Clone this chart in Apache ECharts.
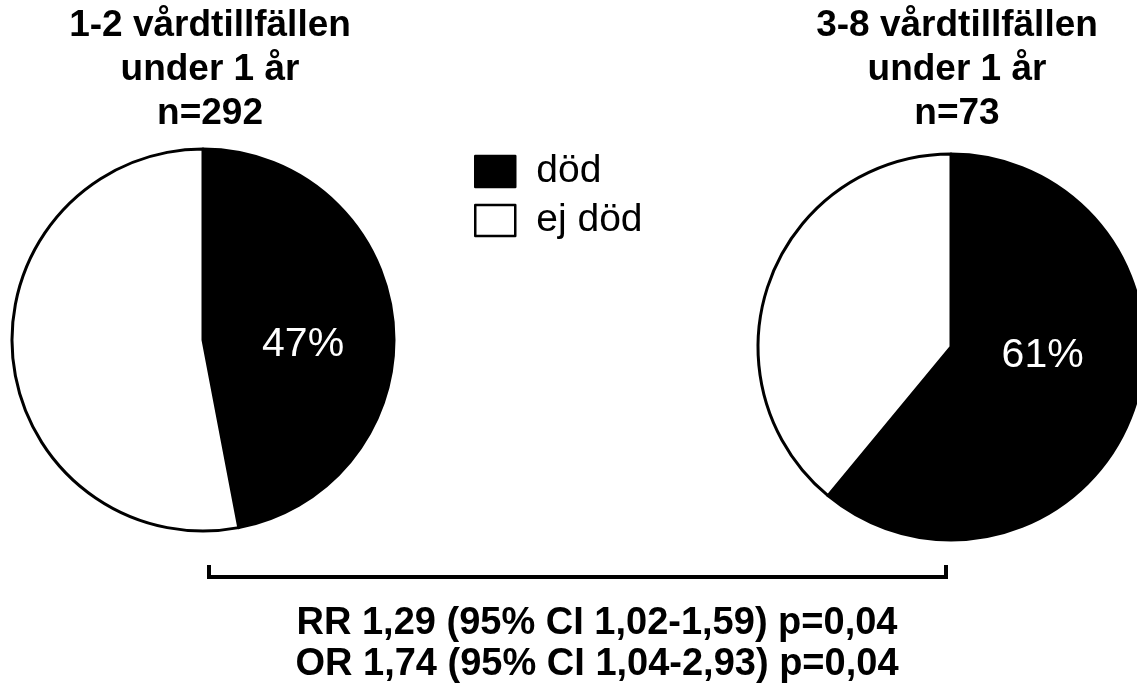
<!DOCTYPE html>
<html>
<head>
<meta charset="utf-8">
<script src="https://cdn.jsdelivr.net/npm/echarts@6/dist/echarts.min.js"></script>
<style>
  html, body { margin: 0; padding: 0; background: #fff; }
  #chart { width: 1137px; height: 688px; }
</style>
</head>
<body>
<div id="chart"></div>
<script>
const categories = ['död', 'ej död']
const groupTitles = [
  '1-2 vårdtillfällen\nunder 1 år\nn=292',
  '3-8 vårdtillfällen\nunder 1 år\nn=73'
]
// percent dead / not dead in each group
const deadPct = [47, 61]
const alivePct = [53, 39]
const statLines = [
  'RR 1,29 (95% CI 1,02-1,59) p=0,04',
  'OR 1,74 (95% CI 1,04-2,93) p=0,04'
]

const font = '"Liberation Sans", Arial, sans-serif'
const pieCenters = [[203, 340], [951, 347]]
const pieRadius = [191, 193]
const titleX = [210, 957]
const labelShift = [[2, 14], [-2, -25]]

const chart = echarts.init(document.getElementById('chart'))

const series = deadPct.map((d, i) => ({
  type: 'pie',
  center: pieCenters[i],
  radius: pieRadius[i],
  startAngle: 90,
  clockwise: true,
  silent: true,
  label: {
    show: true,
    position: 'inside',
    formatter: '{d}%',
    color: '#fff',
    fontFamily: font,
    fontSize: 41
  },
  labelLayout: { dx: labelShift[i][0], dy: labelShift[i][1] },
  labelLine: { show: false },
  itemStyle: { borderColor: '#000', borderWidth: 3 },
  emphasis: { disabled: true },
  data: [
    { name: categories[0], value: d, itemStyle: { color: '#000' } },
    { name: categories[1], value: alivePct[i], itemStyle: { color: '#fff' }, label: { show: false } }
  ]
}))

const graphics = groupTitles.map((t, i) => ({
  type: 'text',
  x: titleX[i],
  y: 4,
  style: {
    text: t,
    font: 'bold 37px ' + font,
    textAlign: 'center',
    lineHeight: 44,
    fill: '#000'
  }
}))

// bracket joining the two groups
graphics.push({
  type: 'polyline',
  shape: { points: [[209, 565], [209, 577], [946, 577], [946, 565]] },
  style: { stroke: '#000', lineWidth: 4, fill: null }
})

graphics.push({
  type: 'text',
  x: 597,
  y: 603,
  style: {
    text: statLines.join('\n'),
    font: 'bold 38px ' + font,
    textAlign: 'center',
    lineHeight: 41,
    fill: '#000'
  }
})

chart.setOption({
  animation: false,
  backgroundColor: '#fff',
  legend: {
    data: categories,
    orient: 'vertical',
    left: 474,
    top: 152,
    padding: 0,
    itemWidth: 40,
    itemHeight: 31,
    itemGap: 10,
    icon: 'rect',
    selectedMode: false,
    itemStyle: { borderColor: '#000', borderWidth: 2.5 },
    textStyle: { fontFamily: font, fontSize: 39, color: '#000', padding: [0, 0, 0, 16] }
  },
  series: series,
  graphic: graphics
})
</script>
</body>
</html>
